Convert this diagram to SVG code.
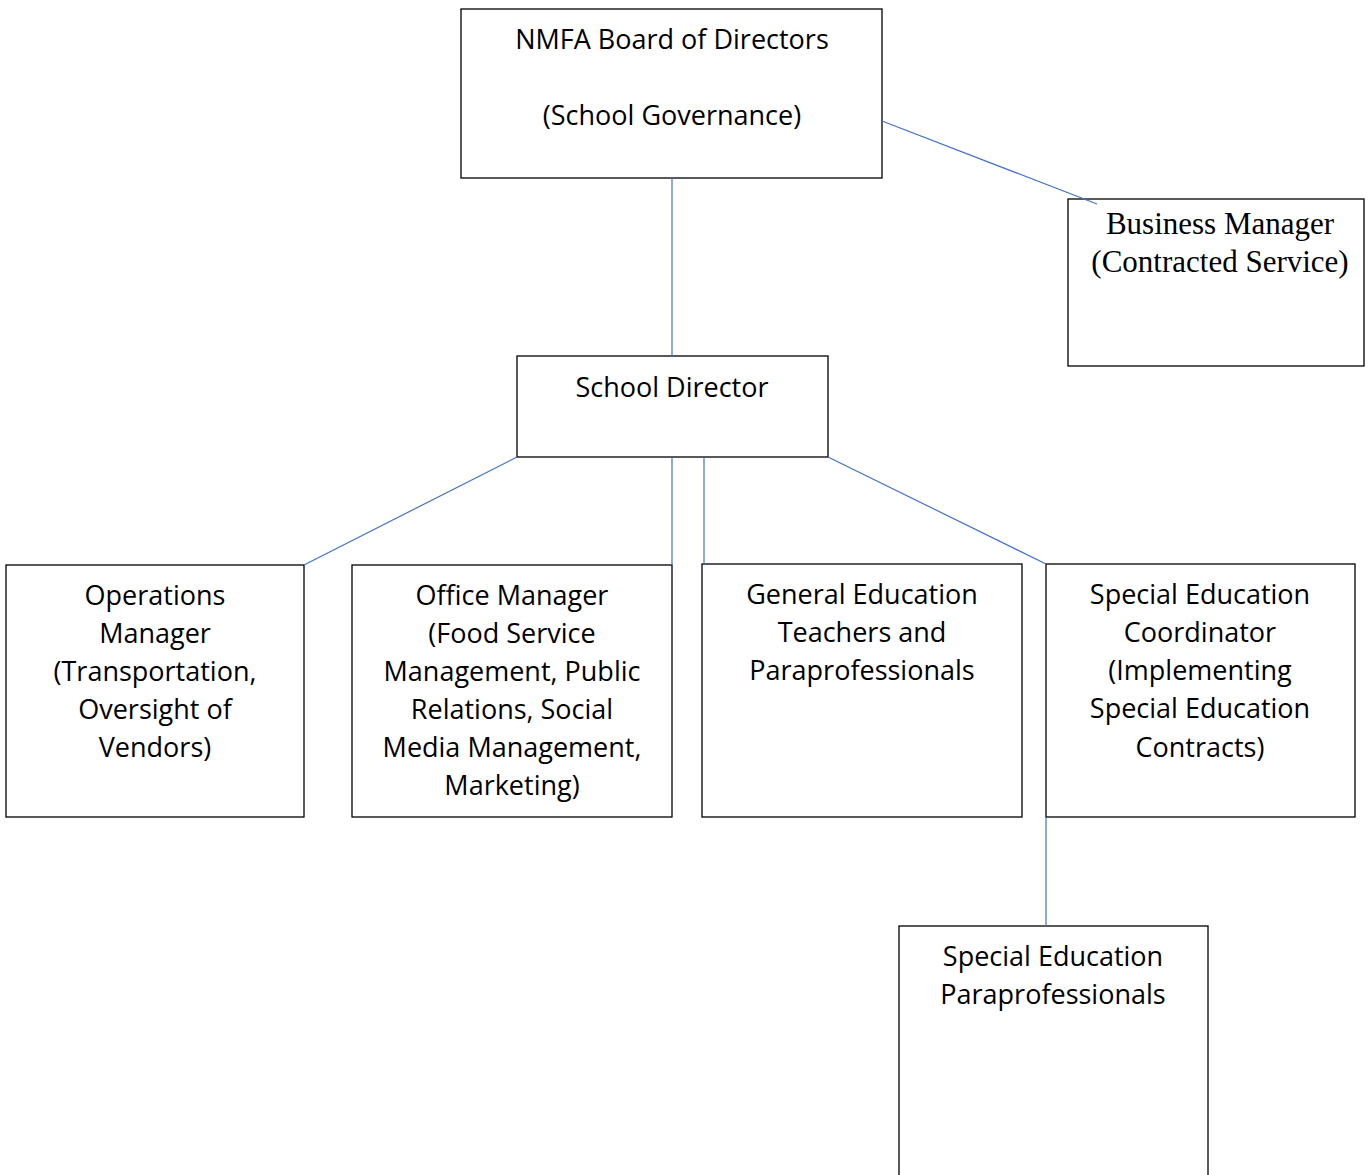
<svg xmlns="http://www.w3.org/2000/svg" width="1368" height="1175" viewBox="0 0 1368 1175">
<style>
.box{fill:#fff;stroke:#000;stroke-width:1.3}
.t{font-family:"Open Sans","Liberation Sans",sans-serif;font-size:27px;fill:#000;text-anchor:middle}
.s{font-family:"Liberation Serif",serif;font-size:31px;fill:#000;text-anchor:middle}
.c{stroke:#4472C4;stroke-width:1.2;fill:none}
</style>
<rect width="1368" height="1175" fill="#fff"/>
<g id="board">
<rect class="box" x="461" y="9" width="421" height="169"/>
<text class="t" x="672" y="49">NMFA Board of Directors</text>
<text class="t" x="672" y="125">(School Governance)</text>
</g>
<g id="business">
<rect class="box" x="1068" y="199" width="296" height="167"/>
<text class="s" x="1220" y="234">Business Manager</text>
<text class="s" x="1220" y="272">(Contracted Service)</text>
</g>
<g id="director">
<rect class="box" x="517" y="356" width="311" height="101"/>
<text class="t" x="672" y="397">School Director</text>
</g>
<g id="operations">
<rect class="box" x="6" y="565" width="298" height="252"/>
<text class="t" x="155" y="605">Operations</text>
<text class="t" x="155" y="643">Manager</text>
<text class="t" x="155" y="681">(Transportation,</text>
<text class="t" x="155" y="719">Oversight of</text>
<text class="t" x="155" y="757">Vendors)</text>
</g>
<g id="office">
<rect class="box" x="352" y="565" width="320" height="252"/>
<text class="t" x="512" y="605">Office Manager</text>
<text class="t" x="512" y="643">(Food Service</text>
<text class="t" x="512" y="681">Management, Public</text>
<text class="t" x="512" y="719">Relations, Social</text>
<text class="t" x="512" y="757">Media Management,</text>
<text class="t" x="512" y="795">Marketing)</text>
</g>
<g id="gened">
<rect class="box" x="702" y="564" width="320" height="253"/>
<text class="t" x="862" y="604">General Education</text>
<text class="t" x="862" y="642">Teachers and</text>
<text class="t" x="862" y="680">Paraprofessionals</text>
</g>
<g id="speced">
<rect class="box" x="1046" y="564" width="309" height="253"/>
<text class="t" x="1200" y="604">Special Education</text>
<text class="t" x="1200" y="642">Coordinator</text>
<text class="t" x="1200" y="680">(Implementing</text>
<text class="t" x="1200" y="718">Special Education</text>
<text class="t" x="1200" y="757">Contracts)</text>
</g>
<g id="paras">
<rect class="box" x="899" y="926" width="309" height="270"/>
<text class="t" x="1053" y="966">Special Education</text>
<text class="t" x="1053" y="1004">Paraprofessionals</text>
</g>
<g id="connectors">
<line class="c" x1="672" y1="178" x2="672" y2="356"/>
<line class="c" x1="882" y1="121" x2="1097" y2="204"/>
<line class="c" x1="517" y1="457" x2="304" y2="565"/>
<line class="c" x1="672" y1="457" x2="672" y2="565"/>
<line class="c" x1="704" y1="457" x2="704" y2="564"/>
<line class="c" x1="828" y1="457" x2="1046" y2="564"/>
<line class="c" x1="1046" y1="817" x2="1046" y2="926"/>
</g>
</svg>
